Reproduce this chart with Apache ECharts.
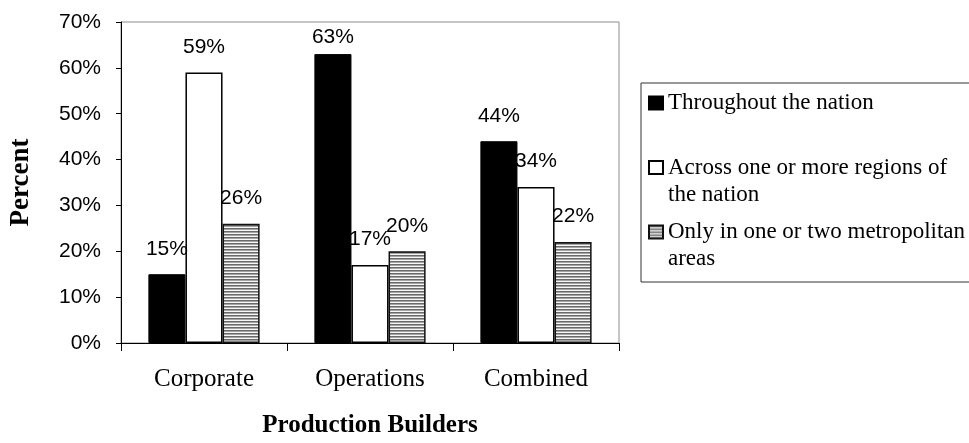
<!DOCTYPE html>
<html>
<head>
<meta charset="utf-8">
<script src="https://cdn.jsdelivr.net/npm/echarts@6/dist/echarts.min.js"></script>
<style>
html, body { margin: 0; padding: 0; background: #fff; }
#chart { width: 969px; height: 443px; }
</style>
</head>
<body>
<div id="chart"></div>
<script>
var categories = ['Corporate', 'Operations', 'Combined'];
var seriesNames = ['Throughout the nation', 'Across one or more regions of the nation', 'Only in one or two metropolitan areas'];
// legend text as it wraps in the box; blank first/last lines keep the icon on the first text line
var legendLines = [' \nThroughout the nation\n ', ' \nAcross one or more regions of\nthe nation', ' \nOnly in one or two metropolitan\nareas'];
var nationwide = [15, 63, 44];
var regional = [59, 17, 34];
var metro = [26, 20, 22];
var yMin = 0, yMax = 70, yStep = 10;

// striped fill for the third series
var stripe = document.createElement('canvas');
stripe.width = 4;
stripe.height = 3;
var ctx = stripe.getContext('2d');
['#6a6a6a', '#a4a4a4', '#f6f6f6'].forEach(function (c, i) {
  ctx.fillStyle = c;
  ctx.fillRect(0, i, 4, 1);
});
var hatch = { image: stripe, repeat: 'repeat' };

var myChart = echarts.init(document.getElementById('chart'));

var barLabel = {
  show: true,
  position: 'top',
  distance: 15,
  formatter: '{c}%',
  fontFamily: 'Liberation Sans',
  fontSize: 21,
  color: '#000'
};

// labels near the top of the plot sit closer to their bar
function withLabels(values) {
  return values.map(function (v) {
    return v > yMax - 10 ? { value: v, label: { distance: 6 } } : v;
  });
}

var option = {
  animation: false,
  grid: {
    left: 120,
    right: 350,
    top: 22,
    bottom: 99,
    show: true,
    borderColor: '#8c8c8c',
    borderWidth: 1
  },
  legend: {
    orient: 'vertical',
    left: 641,
    top: 83,
    itemWidth: 14,
    itemHeight: 13,
    itemGap: -16.5,
    padding: [-20.5, 300, 9.5, 7],
    borderColor: '#333',
    borderWidth: 1,
    icon: 'rect',
    data: seriesNames,
    formatter: function (name) {
      return legendLines[seriesNames.indexOf(name)];
    },
    textStyle: {
      fontFamily: 'Liberation Serif',
      fontSize: 23,
      lineHeight: 27,
      color: '#000'
    }
  },
  xAxis: {
    type: 'category',
    data: categories,
    name: 'Production Builders',
    nameLocation: 'middle',
    nameGap: 70,
    nameTextStyle: {
      fontFamily: 'Liberation Serif',
      fontWeight: 'bold',
      fontSize: 25,
      color: '#000'
    },
    axisLine: { lineStyle: { color: '#000', width: 1 } },
    axisTick: { show: true, length: 8, lineStyle: { color: '#000' } },
    axisLabel: {
      margin: 24,
      fontFamily: 'Liberation Serif',
      fontSize: 25,
      color: '#000'
    }
  },
  yAxis: {
    type: 'value',
    min: yMin,
    max: yMax,
    interval: yStep,
    name: 'Percent',
    nameLocation: 'middle',
    nameGap: 86,
    nameTextStyle: {
      fontFamily: 'Liberation Serif',
      fontWeight: 'bold',
      fontSize: 27,
      color: '#000'
    },
    splitLine: { show: false },
    axisLine: { show: true, lineStyle: { color: '#000', width: 1 } },
    axisTick: { show: true, length: 5, lineStyle: { color: '#000' } },
    axisLabel: {
      formatter: '{value}%',
      margin: 20,
      fontFamily: 'Liberation Sans',
      fontSize: 21,
      color: '#000'
    }
  },
  series: [
    {
      name: seriesNames[0],
      type: 'bar',
      data: withLabels(nationwide),
      barGap: '0%',
      barCategoryGap: '33%',
      itemStyle: { color: '#000', borderColor: '#000', borderWidth: 1 },
      label: barLabel
    },
    {
      name: seriesNames[1],
      type: 'bar',
      data: withLabels(regional),
      itemStyle: { color: '#fff', borderColor: '#000', borderWidth: 1.5 },
      label: barLabel
    },
    {
      name: seriesNames[2],
      type: 'bar',
      data: withLabels(metro),
      itemStyle: { color: hatch, borderColor: '#111', borderWidth: 1.5 },
      label: barLabel
    }
  ]
};

option && myChart.setOption(option);
</script>
</body>
</html>
